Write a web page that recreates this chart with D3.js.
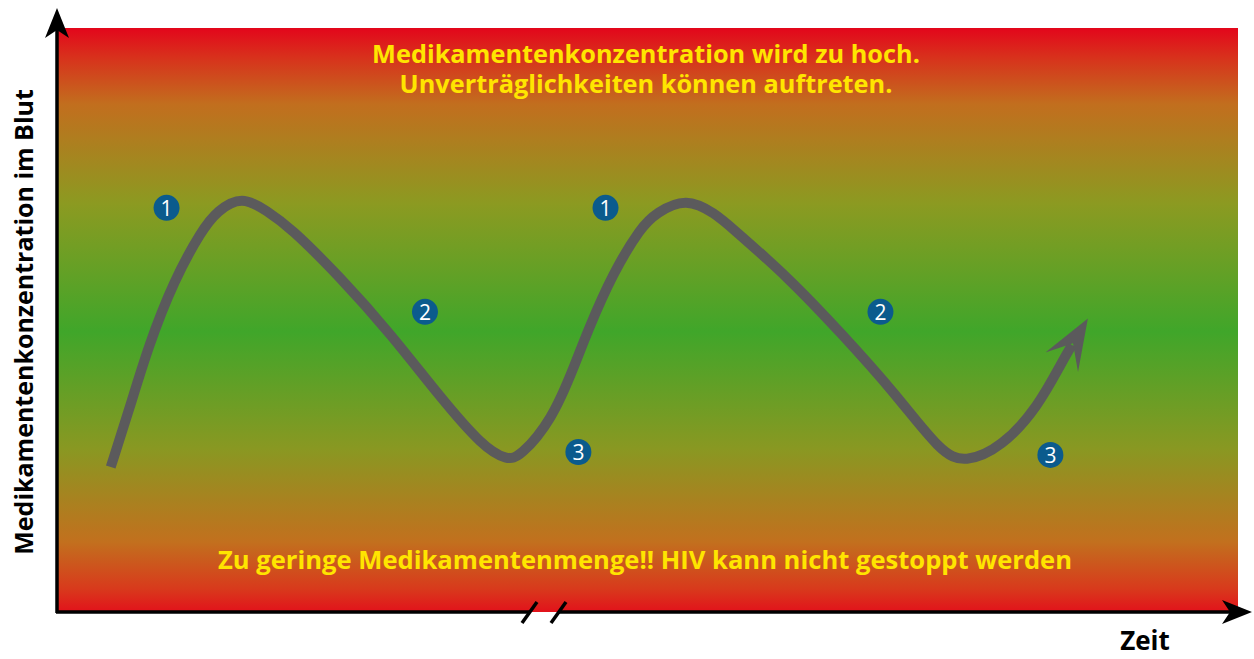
<!DOCTYPE html>
<html>
<head>
<meta charset="utf-8">
<script src="https://cdn.jsdelivr.net/npm/d3@7"></script>
<style>
body { margin: 0; background: #fff; }
text { font-family: "Open Sans", "DejaVu Sans", sans-serif; font-weight: bold; }
</style>
</head>
<body>
<script>
var w = 1254;
var h = 659;

// curve: time (0..100) vs concentration (0..100)
var timeVals = [4.47, 6.10, 7.63, 9.83, 12.20, 13.47, 15.59, 17.71, 19.66, 23.90, 28.14, 32.37, 36.02, 38.05, 39.15, 41.86, 43.73, 44.92, 47.03, 49.41, 50.68, 53.22, 55.76, 57.03, 61.86, 66.36, 70.93, 74.83, 76.86, 80.00, 83.05, 85.17, 85.93];
var concVals = [24.83, 35.10, 45.38, 56.85, 65.41, 68.66, 71.30, 68.66, 65.90, 57.36, 47.77, 36.82, 28.25, 26.03, 26.54, 32.88, 41.95, 48.29, 58.05, 65.92, 68.32, 71.00, 68.15, 65.90, 57.36, 47.77, 37.50, 27.23, 25.51, 28.25, 35.10, 43.15, 45.72];

// numbered phase markers
var phaseLabels = ["1", "2", "3", "1", "2", "3"];
var phaseTime = [9.2, 31.1, 44.1, 46.4, 69.7, 84.1];
var phaseConc = [69.2, 51.4, 27.4, 69.2, 51.4, 26.9];

var topText = ["Medikamentenkonzentration wird zu hoch.", "Unverträglichkeiten können auftreten."];
var bottomText = "Zu geringe Medikamentenmenge!! HIV kann nicht gestoppt werden";
var yTitle = "Medikamentenkonzentration im Blut";
var xTitle = "Zeit";

var xScale = d3.scaleLinear().domain([0, 100]).range([58, 1238]);
var yScale = d3.scaleLinear().domain([0, 100]).range([612, 28]);

var svg = d3.select("body").append("svg").attr("width", w).attr("height", h);

var defs = svg.append("defs");
var grad = defs.append("linearGradient").attr("id", "bg").attr("x1", 0).attr("y1", 0).attr("x2", 0).attr("y2", 1);
[[0, "#e3061b"], [0.05, "#d8311c"], [0.13, "#c26e1e"], [0.3, "#8c9a21"], [0.52, "#40a62a"], [0.72, "#899822"], [0.88, "#c2701e"], [0.96, "#d83a1c"], [1, "#e2121b"]]
  .forEach(function(s) { grad.append("stop").attr("offset", s[0]).attr("stop-color", s[1]); });

defs.append("marker")
  .attr("id", "head")
  .attr("markerUnits", "userSpaceOnUse")
  .attr("viewBox", "0 -20 52 40")
  .attr("markerWidth", 52).attr("markerHeight", 40)
  .attr("refX", 20).attr("refY", 0)
  .attr("orient", "auto")
  .append("path").attr("d", "M0,-19 L51,0 L0,19 L22,0 Z").attr("fill", "#5b5a5c");

defs.append("marker")
  .attr("id", "axhead")
  .attr("markerUnits", "userSpaceOnUse")
  .attr("viewBox", "0 -14 30 28")
  .attr("markerWidth", 30).attr("markerHeight", 28)
  .attr("refX", 8).attr("refY", 0)
  .attr("orient", "auto")
  .append("path").attr("d", "M0,-12 L30,0 L0,12 L8,0 Z").attr("fill", "#000");

// background zones
svg.append("rect")
  .attr("x", xScale(0)).attr("y", yScale(100))
  .attr("width", xScale(100) - xScale(0)).attr("height", yScale(0) - yScale(100))
  .attr("fill", "url(#bg)");

// zone texts
svg.selectAll(".top").data(topText).enter().append("text")
  .attr("x", 646).attr("y", function(d, i) { return 63 + i * 30; })
  .attr("text-anchor", "middle").attr("font-size", 25.3).attr("fill", "#ffe500")
  .text(function(d) { return d; });

svg.append("text")
  .attr("x", 645).attr("y", 569)
  .attr("text-anchor", "middle").attr("font-size", 25.5).attr("fill", "#ffe500")
  .attr("textLength", 854).attr("lengthAdjust", "spacingAndGlyphs")
  .text(bottomText);

// concentration curve
var pts = timeVals.map(function(t, i) { return [t, concVals[i]]; });
var line = d3.line()
  .x(function(d) { return xScale(d[0]); })
  .y(function(d) { return yScale(d[1]); })
  .curve(d3.curveBasis);

svg.append("path")
  .attr("d", line(pts))
  .attr("fill", "none")
  .attr("stroke", "#5b5a5c")
  .attr("stroke-width", 10)
  .attr("marker-end", "url(#head)");

// phase numbers
var ph = svg.selectAll(".ph").data(phaseLabels).enter().append("g")
  .attr("transform", function(d, i) { return "translate(" + xScale(phaseTime[i]) + "," + yScale(phaseConc[i]) + ")"; });
ph.append("circle").attr("r", 13).attr("fill", "#0b5b8d");
ph.append("text").attr("y", 8).attr("text-anchor", "middle")
  .attr("font-size", 21).style("font-weight", "normal")
  .attr("fill", "#fff").text(function(d) { return d; });

// axes
svg.append("line")
  .attr("x1", 57).attr("y1", 613).attr("x2", 57).attr("y2", 30)
  .attr("stroke", "#000").attr("stroke-width", 3.5)
  .attr("marker-end", "url(#axhead)");

svg.append("line")
  .attr("x1", 56).attr("y1", 612).attr("x2", 530).attr("y2", 612)
  .attr("stroke", "#000").attr("stroke-width", 3.5);
svg.append("line")
  .attr("x1", 559).attr("y1", 612).attr("x2", 1230).attr("y2", 612)
  .attr("stroke", "#000").attr("stroke-width", 3.5)
  .attr("marker-end", "url(#axhead)");

// axis break marks
[[522, 537], [551, 566]].forEach(function(b) {
  svg.append("line")
    .attr("x1", b[0]).attr("y1", 623).attr("x2", b[1]).attr("y2", 602)
    .attr("stroke", "#000").attr("stroke-width", 3.5);
});

// axis titles
svg.append("text")
  .attr("transform", "translate(33,322) rotate(-90)")
  .attr("text-anchor", "middle").attr("font-size", 25).attr("fill", "#000")
  .text(yTitle);

svg.append("text")
  .attr("x", 1145).attr("y", 650)
  .attr("text-anchor", "middle").attr("font-size", 26).attr("fill", "#000")
  .text(xTitle);
</script>
</body>
</html>
